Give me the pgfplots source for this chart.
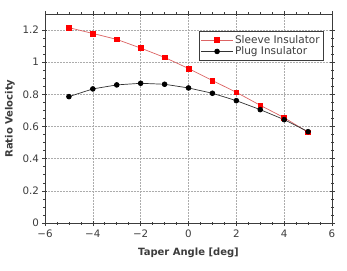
\documentclass[border=0pt]{standalone}
\usepackage{pgfplots}
\pgfplotsset{compat=1.18}
\usepackage{fontspec}
\setmainfont{DejaVu Sans}
\definecolor{axgray}{RGB}{60,60,60}
\definecolor{sleeveline}{RGB}{220,100,100}
\begin{document}
\begin{tikzpicture}
\begin{axis}[
  scale only axis,
  width=287pt, height=209pt,
  xmin=-6, xmax=6, ymin=0, ymax=1.3,
  xtick={-6,-4,...,6},
  xticklabels={−6,−4,−2,0,2,4,6},
  ytick={0,0.2,...,1.2},
  yticklabels={0,0.2,0.4,0.6,0.8,1,1.2},
  minor x tick num=3,
  minor y tick num=3,
  tick align=center,
  major tick length=5pt,
  minor tick length=3pt,
  axis line style={axgray, line width=0.8pt},
  every tick/.style={axgray, line width=0.6pt},
  grid=major,
  major grid style={gray!65, dash pattern=on 0.6pt off 0.9pt, line width=0.45pt},
  tick label style={font=\fontsize{10.3}{12}\selectfont, text=axgray},
  xticklabel style={yshift=-1pt},
  xlabel={\bfseries Taper Angle [deg]},
  ylabel={\bfseries Ratio Velocity},
  label style={font=\fontsize{10}{12}\selectfont\bfseries, text=axgray},
  xlabel style={at={(axis description cs:0.5,0)}, anchor=center, yshift=-30pt},
  ylabel style={at={(axis description cs:0,0.5)}, anchor=center, yshift=35pt},
  legend style={at={(0.972,0.919)}, anchor=north east, draw=axgray, line width=0.6pt,
    font=\fontsize{10.5}{12}\selectfont, text=axgray, inner sep=2pt, row sep=-2pt},
  legend cell align=left,
]
\addplot[sleeveline, line width=0.7pt, mark=square*, mark size=2.4pt, mark options={fill=red, draw=red},
  legend image code/.code={\draw[mark repeat=2,mark phase=2] plot coordinates {(0cm,0cm)(0.55cm,0cm)(1.1cm,0cm)};}]
  coordinates {(-5,1.215) (-4,1.179) (-3,1.142) (-2,1.088) (-1,1.030) (0,0.961) (1,0.886) (2,0.813) (3,0.732) (4,0.655) (5,0.564)};
\addlegendentry{Sleeve Insulator}
\addplot[black!80, line width=0.7pt, mark=*, mark size=2.4pt, mark options={fill=black, draw=black},
  legend image code/.code={\draw[mark repeat=2,mark phase=2] plot coordinates {(0cm,0cm)(0.55cm,0cm)(1.1cm,0cm)};}]
  coordinates {(-5,0.786) (-4,0.834) (-3,0.859) (-2,0.869) (-1,0.863) (0,0.840) (1,0.807) (2,0.761) (3,0.705) (4,0.643) (5,0.568)};
\addlegendentry{Plug Insulator}
\end{axis}
\pgfresetboundingbox
\path (current axis.south west) ++(-45pt,-47pt) coordinate (bbA);
\path (current axis.north east) ++(15pt,14pt) coordinate (bbB);
\path[use as bounding box] (bbA) rectangle (bbB);
\end{tikzpicture}
\end{document}
